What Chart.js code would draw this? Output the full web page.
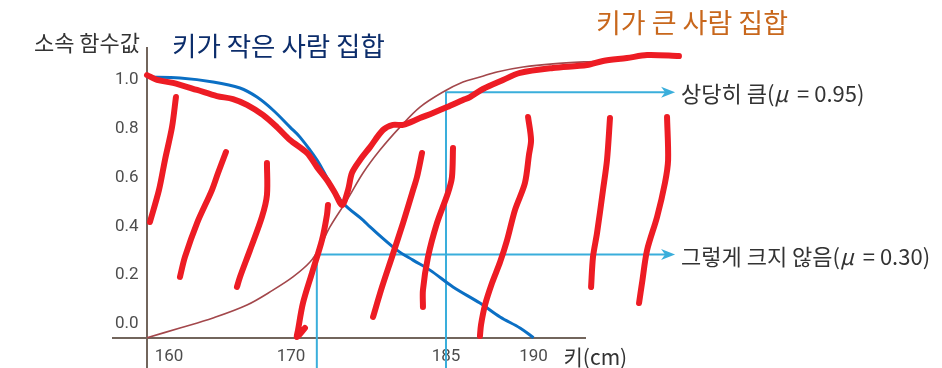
<!DOCTYPE html>
<html>
<head>
<meta charset="utf-8">
<script src="https://cdn.jsdelivr.net/npm/chart.js@4.4.1/dist/chart.umd.min.js"></script>
<style>
  html, body { margin: 0; padding: 0; background: #fff; }
  #wrap { width: 942px; height: 368px; }
</style>
</head>
<body>
<div id="wrap"><canvas id="fuzzyChart"></canvas></div>
<script>
// tick labels
const xTicks = [160, 170, 185, 190];
const yTicks = [0, 0.2, 0.4, 0.6, 0.8, 1.0];

// membership curves, [height (cm), membership]
const shortSet = [[158.20, 1.012], [160.90, 1.008], [163.61, 0.992], [165.82, 0.967], [167.21, 0.930],
  [168.52, 0.877], [169.92, 0.807], [170.87, 0.766], [172.52, 0.672], [173.77, 0.578], [175.03, 0.496],
  [176.97, 0.426], [177.65, 0.398], [180.26, 0.303], [181.81, 0.262], [183.45, 0.221], [185.40, 0.152],
  [186.94, 0.086], [188.09, 0.029], [189.23, -0.016], [190.00, -0.056]];
const tallSet = [[158.20, -0.056], [160.90, -0.016], [163.61, 0.025], [166.39, 0.078], [168.52, 0.139],
  [170.19, 0.193], [171.84, 0.254], [172.81, 0.316], [173.77, 0.398], [175.42, 0.508], [176.97, 0.619],
  [178.61, 0.713], [180.55, 0.807], [182.48, 0.889], [184.71, 0.951], [185.97, 0.992], [186.94, 1.012],
  [187.91, 1.033], [189.40, 1.053], [191.11, 1.066], [193.80, 1.078]];

// the two readings marked with arrows
const readingHigh = [185, 0.95];
const readingLow = [172.5, 0.285];

// red pen marks drawn over the figure
const penOutline = [[158.20, 1.020], [159.02, 1.000], [160.33, 0.988], [162.30, 0.959], [163.93, 0.934],
  [165.25, 0.922], [166.39, 0.898], [167.70, 0.857], [168.85, 0.807], [169.92, 0.754], [171.55, 0.701],
  [172.52, 0.643], [173.48, 0.590], [174.26, 0.537], [174.94, 0.488], [175.52, 0.549], [175.90, 0.619],
  [176.68, 0.672], [177.65, 0.725], [178.90, 0.795], [179.87, 0.816], [180.84, 0.816], [182.48, 0.844],
  [183.74, 0.865], [185.06, 0.889], [185.97, 0.918], [186.37, 0.930], [187.11, 0.963], [188.26, 1.000],
  [189.23, 1.029], [191.11, 1.049], [193.06, 1.061], [193.97, 1.078], [195.34, 1.090], [196.49, 1.102],
  [198.31, 1.098]];
const penHatch = [
  [[160.57, 0.930], [160.25, 0.807], [159.67, 0.672], [159.18, 0.549], [158.44, 0.418]],
  [[164.67, 0.705], [164.02, 0.619], [163.52, 0.549], [162.30, 0.414], [161.31, 0.275], [160.90, 0.193]],
  [[168.03, 0.660], [168.03, 0.529], [167.62, 0.439], [166.64, 0.303], [165.82, 0.193], [165.57, 0.152]],
  [[173.58, 0.488], [173.48, 0.447], [173.00, 0.344], [172.03, 0.209], [171.16, 0.086], [170.68, -0.025],
    [170.58, -0.053], [171.35, -0.016]],
  [[182.68, 0.701], [182.19, 0.602], [181.81, 0.549], [180.84, 0.414], [179.77, 0.275], [178.81, 0.152],
    [177.94, 0.029]],
  [[185.40, 0.721], [185.34, 0.602], [185.11, 0.537], [184.13, 0.414], [183.26, 0.275], [182.77, 0.139],
    [182.77, 0.070]],
  [[189.69, 0.848], [189.86, 0.754], [189.74, 0.693], [189.51, 0.578], [188.94, 0.467], [188.49, 0.344],
    [188.09, 0.254], [187.63, 0.168], [187.23, 0.078], [187.00, -0.004], [186.94, -0.049]],
  [[194.37, 0.844], [194.20, 0.672], [193.97, 0.549], [193.63, 0.373], [193.40, 0.275], [193.29, 0.152]],
  [[197.63, 0.848], [197.69, 0.672], [197.51, 0.578], [197.06, 0.439], [196.49, 0.303], [196.20, 0.168],
    [196.03, 0.086]]
];

// layout
const yMin = -0.18, yMax = 1.131;
const originX = 158.2;      // where the vertical axis stands
const baseY = -0.056;       // where the horizontal axis runs
const arrowTip = 198.09;
const labelX = 198.43;
const tickSpots = [0.1186, 0.3771, 0.7055, 0.8909]; // the drawing's x axis is not to scale

const axisColor = '#72655c';
const penRed = '#ed1c24';
const cyan = '#3aaedb';
const textGray = '#333333';
const krFont = '"Noto Sans CJK KR", "Noto Sans", sans-serif';

// x scale mapped piecewise between the tick values, like the original drawing
class BrokenScale extends Chart.LinearScale {
  toDecimal(v) {
    let i = 1;
    while (i < xTicks.length - 1 && v > xTicks[i]) i++;
    const t = (v - xTicks[i - 1]) / (xTicks[i] - xTicks[i - 1]);
    return tickSpots[i - 1] + t * (tickSpots[i] - tickSpots[i - 1]);
  }
  getPixelForValue(v) {
    if (v === null || isNaN(v)) return NaN;
    return this.getPixelForDecimal(this.toDecimal(v));
  }
  getValueForPixel(p) {
    const d = this.getDecimalForPixel(p);
    let i = 1;
    while (i < tickSpots.length - 1 && d > tickSpots[i]) i++;
    const t = (d - tickSpots[i - 1]) / (tickSpots[i] - tickSpots[i - 1]);
    return xTicks[i - 1] + t * (xTicks[i] - xTicks[i - 1]);
  }
}
BrokenScale.id = 'broken';
Chart.register(BrokenScale);

const pts = arr => arr.map(p => ({ x: p[0], y: p[1] }));

function penLine(arr) {
  return {
    data: pts(arr), borderColor: penRed, borderWidth: 6, tension: 0.3,
    borderCapStyle: 'round', borderJoinStyle: 'round', order: 0
  };
}

const datasets = [penLine(penOutline)].concat(penHatch.map(penLine));
datasets.push(
  { data: pts(shortSet), borderColor: '#0b6fc4', borderWidth: 3, tension: 0.35, order: 1 },
  { data: pts(tallSet), borderColor: '#a3474b', borderWidth: 1.6, tension: 0.35, order: 1 },
  { data: pts([[readingHigh[0], yMin], readingHigh, [arrowTip - 0.3, readingHigh[1]]]),
    borderColor: cyan, borderWidth: 2, tension: 0, order: 2 },
  { data: pts([[readingLow[0], yMin], readingLow, [arrowTip - 0.3, readingLow[1]]]),
    borderColor: cyan, borderWidth: 2, tension: 0, order: 2 }
);
datasets.forEach(d => { d.pointRadius = 0; d.fill = false; d.clip = false; });

// text in pieces: [string, font, extra space after]
function drawRich(ctx, parts, x, y) {
  parts.forEach(([txt, font, gap]) => {
    ctx.font = font;
    ctx.fillText(txt, x, y);
    x += ctx.measureText(txt).width + (gap || 0);
  });
}

const notes = {
  id: 'notes',
  afterDatasetsDraw(chart) {
    const { ctx, chartArea, scales: { x, y } } = chart;
    const ox = x.getPixelForValue(originX);
    const by = y.getPixelForValue(baseY);
    ctx.save();

    // arrow heads
    ctx.fillStyle = cyan;
    [readingHigh, readingLow].forEach(r => {
      const tx = x.getPixelForValue(arrowTip), ty = y.getPixelForValue(r[1]);
      ctx.beginPath();
      ctx.moveTo(tx, ty);
      ctx.lineTo(tx - 14, ty - 5.5);
      ctx.lineTo(tx - 10, ty);
      ctx.lineTo(tx - 14, ty + 5.5);
      ctx.closePath();
      ctx.fill();
    });

    ctx.textBaseline = 'middle';
    // axis titles
    ctx.fillStyle = textGray;
    ctx.textAlign = 'right';
    ctx.font = '22px ' + krFont;
    ctx.fillText('소속 함수값', ox - 7, chartArea.top - 5);
    ctx.textAlign = 'left';
    ctx.font = '21px ' + krFont;
    ctx.fillText('키(cm)', x.getPixelForValue(190) + 30, by + 19);

    // set names
    ctx.font = '26.5px ' + krFont;
    ctx.fillStyle = '#0c2d6b';
    ctx.fillText('키가 작은 사람 집합', x.getPixelForValue(160.25), y.getPixelForValue(1.139));
    ctx.font = '27px ' + krFont;
    ctx.fillStyle = '#c8671c';
    ctx.fillText('키가 큰 사람 집합', x.getPixelForValue(193.57), y.getPixelForValue(1.236));

    // readings
    ctx.fillStyle = textGray;
    const plain = '22px ' + krFont, ital = 'italic 22px ' + krFont;
    const lx = x.getPixelForValue(labelX);
    drawRich(ctx, [['상당히 큼(', plain], ['μ', ital, 4], [' = 0.95)', plain]], lx, y.getPixelForValue(readingHigh[1]) + 1);
    drawRich(ctx, [['그렇게 크지 않음(', plain], ['μ', ital, 4], [' = 0.30)', plain]], lx, y.getPixelForValue(readingLow[1]) + 2);
    ctx.restore();
  }
};

const tickFont = { family: 'Roboto, "DejaVu Sans", sans-serif', size: 17 };

new Chart(document.getElementById('fuzzyChart'), {
  type: 'line',
  data: { datasets: datasets },
  options: {
    responsive: true,
    maintainAspectRatio: false,
    animation: false,
    events: [],
    layout: { padding: { left: 113, right: 357, top: 48, bottom: 0 } },
    plugins: { legend: { display: false }, tooltip: { enabled: false } },
    scales: {
      x: {
        type: 'broken',
        position: { y: baseY },
        afterBuildTicks: s => { s.ticks = xTicks.map(v => ({ value: v })); },
        afterFit: s => { s.height = 0; s.paddingLeft = 0; s.paddingRight = 0; },
        grid: { display: false, drawTicks: false },
        border: { color: axisColor, width: 2 },
        ticks: { padding: 9, color: '#4d4d4d', font: tickFont, autoSkip: false, maxRotation: 0,
          callback: v => String(v) }
      },
      y: {
        type: 'linear',
        min: yMin,
        max: yMax,
        position: { x: originX },
        afterBuildTicks: s => { s.ticks = yTicks.map(v => ({ value: v })); },
        afterFit: s => { s.width = 0; s.paddingTop = 0; s.paddingBottom = 0; },
        grid: { display: false, drawTicks: false },
        border: { color: axisColor, width: 2 },
        // labels of an axis placed at a value ignore the padding, so keep a gap with spaces
        ticks: { color: '#4d4d4d', font: tickFont, callback: v => v.toFixed(1) + '\u00a0\u00a0' }
      }
    }
  },
  plugins: [notes]
});
</script>
</body>
</html>
